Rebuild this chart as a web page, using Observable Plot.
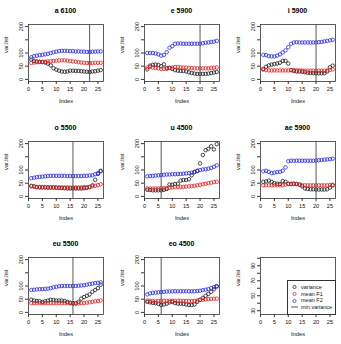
<!DOCTYPE html>
<html><head><meta charset="utf-8">
<script src="https://cdn.jsdelivr.net/npm/d3@7"></script>
<script src="https://cdn.jsdelivr.net/npm/@observablehq/plot@0.6"></script>
<style>
body{margin:0;background:#fff;}
#root{position:relative;width:341px;height:344px;overflow:hidden;background:#fff;font-family:"Liberation Sans",Arial,sans-serif;}
.ttl{position:absolute;width:75px;text-align:center;font-weight:bold;font-size:7px;line-height:8px;color:#000;}
.pnl{position:absolute;}
.leg{position:absolute;border:0.8px solid #333;background:#fff;font-size:5.5px;line-height:6.7px;color:#111;box-sizing:border-box;padding-top:3px;}
.leg div{display:flex;align-items:center;height:6.7px;}
.leg svg{margin-left:3px;margin-right:3px;}
</style></head>
<body><div id="root"></div>
<script>
const titles = ["a 6100","e 5900","i 5900","o 5500","u 4500","ae 5900","eu 5500","eo 4500"];
const minVariance = [22, 20, 20, 16, 6, 20, 16, 6];
const xTicks = [0, 5, 10, 15, 20, 25];
const yTicks = [0, 50, 100, 150, 200];
const yTickLabels = ["0", "50", "100", "", "200"];
const legendYTicks = [30, 40, 50, 60, 70, 80, 90, 100];
const legendLabels = ["variance", "mean F1", "mean F2", "min.variance"];

const variance_a = [75,70,68,67,66,64,60,53,42,37,33,30,29,30,33,33,32,32,31,30,29,28,30,31,33,35];
const meanF1_a   = [62,64,65,66,66,67,68,69,70,71,72,72,72,71,70,68,67,65,64,63,62,62,62,63,63,63];
const meanF2_a   = [84,88,90,92,93,95,97,100,103,105,107,108,108,108,107,107,106,106,105,105,104,104,105,105,106,106];

const variance_e = [38,52,55,56,55,50,57,43,44,40,35,33,32,32,30,27,24,22,21,21,21,21,22,24,26,28];
const meanF1_e   = [45,47,45,43,42,40,40,40,43,45,47,47,46,45,45,44,43,42,42,42,42,42,42,43,44,45];
const meanF2_e   = [100,100,100,98,95,90,93,103,120,126,135,136,136,135,135,135,135,135,135,135,137,139,140,142,143,146];

const variance_i = [40,48,53,56,58,60,63,70,70,60,35,32,30,30,29,27,25,24,24,23,23,23,23,30,46,52];
const meanF1_i   = [37,35,34,34,34,34,34,34,34,34,35,35,34,34,34,33,33,33,33,33,33,33,33,34,36,38];
const meanF2_i   = [93,92,88,87,87,90,95,102,110,122,135,140,141,140,140,140,140,140,140,140,141,142,144,146,148,150];

const variance_o = [40,38,35,34,34,34,33,33,33,33,32,32,31,30,30,30,30,30,30,31,32,35,42,63,85,97];
const meanF1_o   = [38,37,36,36,35,35,35,35,35,34,34,34,34,34,34,34,34,34,34,35,35,36,38,40,43,46];
const meanF2_o   = [69,71,73,74,75,76,77,78,78,78,78,78,78,77,77,77,77,77,77,78,78,79,80,84,88,95];

const variance_u = [25,24,23,23,23,23,25,28,45,44,47,48,60,62,62,65,80,92,97,125,157,175,180,190,178,198];
const meanF1_u   = [30,30,30,30,30,31,31,32,33,34,35,35,36,36,37,38,39,40,42,44,46,48,50,52,54,55];
const meanF2_u   = [76,77,78,79,80,81,82,83,83,84,84,85,85,86,87,88,90,93,96,100,102,103,105,108,112,118];

const variance_ae = [55,57,60,55,50,48,47,58,55,48,47,48,47,45,38,30,28,27,27,26,26,26,26,27,33,42];
const meanF1_ae   = [42,42,42,42,42,42,42,42,45,47,48,48,47,45,43,42,42,42,42,42,42,42,42,42,43,44];
const meanF2_ae   = [95,97,93,88,90,92,93,97,110,133,135,135,135,135,135,135,135,135,135,136,137,138,139,140,141,143];

const variance_eu = [48,45,43,42,40,42,45,48,47,45,45,45,43,40,37,35,35,40,52,58,63,68,78,85,92,105];
const meanF1_eu   = [35,35,35,35,35,35,35,35,35,35,35,35,35,35,34,33,33,34,35,36,37,38,40,42,43,45];
const meanF2_eu   = [85,86,87,88,88,89,90,92,95,97,99,100,100,100,100,100,100,101,102,103,105,107,109,111,112,114];

const variance_eo = [40,38,36,35,32,28,30,33,38,40,35,33,33,32,30,28,28,30,40,48,55,63,70,78,88,98];
const meanF1_eo   = [45,44,43,42,43,44,44,44,44,44,44,44,44,44,43,43,43,44,45,47,48,49,50,51,52,52];
const meanF2_eo   = [68,72,74,75,76,77,78,79,79,80,80,80,80,80,80,80,80,80,81,82,84,86,88,92,96,100];

const varianceSeries = [variance_a, variance_e, variance_i, variance_o, variance_u, variance_ae, variance_eu, variance_eo];
const meanF1Series = [meanF1_a, meanF1_e, meanF1_i, meanF1_o, meanF1_u, meanF1_ae, meanF1_eu, meanF1_eo];
const meanF2Series = [meanF2_a, meanF2_e, meanF2_i, meanF2_o, meanF2_u, meanF2_ae, meanF2_eu, meanF2_eo];

const colBox = [28, 144, 260];
const rowBox = [24, 141, 257];
const BW = 75, BH = 57, ML = 28, MT = 4, MR = 4, MB = 32;
const root = document.getElementById("root");
const FONT = '"Liberation Sans", Arial, sans-serif';

function baseMarks(yt, ylabs) {
  return [
    Plot.frame({stroke: "#333", strokeWidth: 0.8}),
    Plot.axisX({ticks: xTicks, tickSize: 3, tickPadding: 3, label: null, stroke: "#333"}),
    Plot.axisY({ticks: yt, tickFormat: (d, i) => ylabs[i], tickSize: 3, tickPadding: 2.5, tickRotate: -90, label: null, stroke: "#333"}),
    Plot.text(["Index"], {text: d => d, frameAnchor: "bottom", dy: 21, fontSize: 5.8}),
    Plot.text(["var.list"], {text: d => d, frameAnchor: "left", dx: -22, rotate: -90, fontSize: 5.8})
  ];
}

for (let i = 0; i < 9; i++) {
  const col = i % 3, row = Math.floor(i / 3);
  const holder = document.createElement("div");
  holder.className = "pnl";
  holder.style.left = (colBox[col] - ML) + "px";
  holder.style.top = (rowBox[row] - MT) + "px";
  let marks, ydom;
  if (i < 8) {
    const data = d3.range(26).map(j => ({idx: j + 1, v: varianceSeries[i][j], f1: meanF1Series[i][j], f2: meanF2Series[i][j]}));
    ydom = [-8, 208];
    marks = [
      ...baseMarks(yTicks, yTickLabels),
      Plot.dot(data, {x: "idx", y: "v", r: 1.75, stroke: "#111", strokeWidth: 0.75}),
      Plot.dot(data, {x: "idx", y: "f1", r: 1.75, stroke: "#e01818", strokeWidth: 0.75}),
      Plot.dot(data, {x: "idx", y: "f2", r: 1.75, stroke: "#2020e8", strokeWidth: 0.75}),
      Plot.ruleX([minVariance[i]], {stroke: "#444", strokeWidth: 0.9})
    ];
    const t = document.createElement("div");
    t.className = "ttl";
    t.textContent = titles[i];
    t.style.left = colBox[col] + "px";
    t.style.top = (rowBox[row] - 17) + "px";
    root.appendChild(t);
  } else {
    ydom = [25, 101];
    marks = baseMarks(legendYTicks, legendYTicks.map(d => (d % 20 === 10 ? String(d) : "")));
  }
  const p = Plot.plot({
    width: ML + BW + MR, height: MT + BH + MB,
    marginLeft: ML, marginTop: MT, marginRight: MR, marginBottom: MB,
    x: {domain: [0, 27]},
    y: {domain: ydom},
    style: {fontFamily: FONT, fontSize: "5.6px", background: "transparent", color: "#111"},
    marks
  });
  holder.appendChild(p);
  root.appendChild(holder);
}

// legend box in the 9th panel
const leg = document.createElement("div");
leg.className = "leg";
leg.style.left = "287px";
leg.style.top = "280px";
leg.style.width = (colBox[2] + BW - 287 + 0.5) + "px";
leg.style.height = (rowBox[2] + BH - 280 + 0.5) + "px";
const legendColors = ["#111", "#e01818", "#2020e8", "#444"];
legendLabels.forEach((lab, k) => {
  const r = document.createElement("div");
  const sym = k < 3
    ? `<svg width="7" height="6"><circle cx="3.5" cy="3" r="1.6" fill="none" stroke="${legendColors[k]}" stroke-width="0.7"/></svg>`
    : `<svg width="7" height="6"><line x1="0" x2="7" y1="3" y2="3" stroke="${legendColors[k]}" stroke-width="0.9"/></svg>`;
  r.innerHTML = sym + `<span>${lab}</span>`;
  leg.appendChild(r);
});
root.appendChild(leg);
</script></body></html>
